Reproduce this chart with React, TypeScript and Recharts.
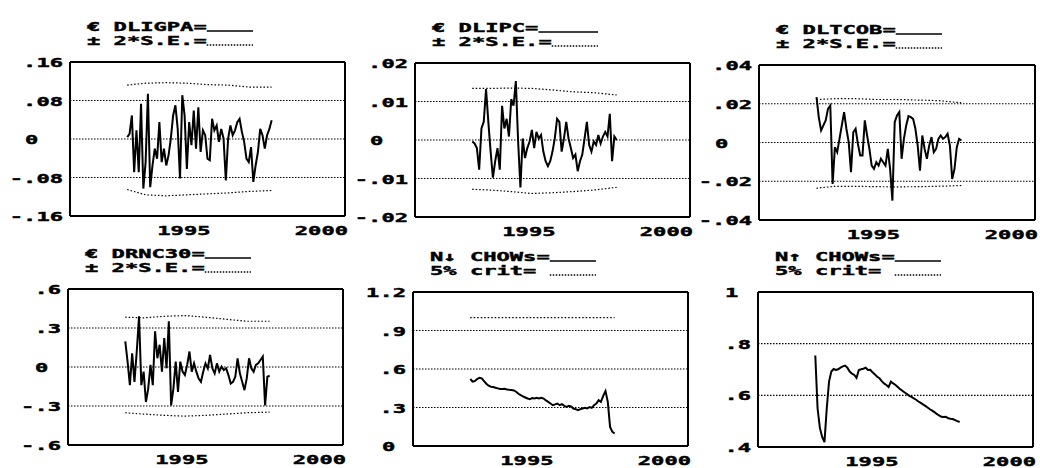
import React from "react";
import { LineChart, Line, XAxis, YAxis, ReferenceLine } from "recharts";

// monthly sample, first observation 1992(2)
const START = 1992 + 1 / 12;

const yearTicks = [1991, 1992, 1993, 1994, 1995, 1996, 1997, 1998, 1999, 2000];
const yearLabels = ["1995", "2000"];
const bigYear = [1995];

const bandYears = [1992.08, 1992.75, 1993.5, 1994.25, 1995, 1995.75, 1996.5, 1997.33];
const critYears = [1992.08, 1997.33];

const dligpa = [
  0.004, 0.011, 0.049, -0.069, 0.018, -0.069, 0.073, -0.103, -0.048, 0.094,
  -0.1, -0.055, -0.02, -0.041, 0.035, -0.048, -0.02, -0.055, -0.034, 0.001,
  0.049, 0.07, 0.021, -0.082, 0.091, 0.049, -0.062, 0.035, -0.013, 0.059,
  -0.02, 0.066, -0.027, 0.018, 0.008, -0.041, -0.044, 0.042, 0.018, 0.028,
  -0.006, 0.021, 0.001, -0.086, 0.001, 0.028, 0.008, 0.018, 0.035, 0.042,
  0.015, -0.006, -0.041, -0.048, -0.017, -0.089, -0.055, -0.027, 0.021, 0.008,
  -0.02, 0.008, 0.021, 0.039,
];
const dligpaHi = [0.112, 0.116, 0.117, 0.116, 0.113, 0.112, 0.108, 0.108];
const dligpaLo = [-0.105, -0.116, -0.118, -0.116, -0.114, -0.112, -0.109, -0.107];

const dlipc = [
  -0.0004, -0.0009, -0.0021, -0.0077, 0.003, 0.0047, 0.0132, 0.0047, -0.003, -0.0098,
  -0.0055, -0.0021, -0.0077, 0.0089, 0.003, 0.0055, 0.0009, 0.0106, 0.0089, 0.0153,
  -0.0004, -0.0123, 0.0004, -0.0047, -0.0021, -0.0004, 0.0026, -0.0021, 0.0021, 0.0004,
  0.0013, -0.003, -0.0055, -0.0068, -0.0055, -0.003, 0.0004, 0.0055, 0.0047, -0.003,
  0.0004, 0.0047, 0.0004, -0.0021, -0.0047, -0.0038, -0.0081, -0.0055, -0.0038, 0.0004,
  0.0047, -0.0013, -0.003, -0.0004, -0.0013, 0.0013, -0.0009, 0.0009, 0.0021, 0.0009,
  0.0068, -0.0055, 0.0009, 0.0,
];
const dlipcHi = [0.0134, 0.0134, 0.0135, 0.0134, 0.013, 0.0125, 0.0123, 0.0117];
const dlipcLo = [-0.0128, -0.013, -0.0134, -0.0139, -0.0137, -0.0134, -0.013, -0.0123];

const dltcob = [
  0.0234, 0.013, 0.0062, 0.0088, 0.0114, 0.0174, 0.0191, -0.0214, -0.0024, -0.005,
  0.0019, 0.0088, 0.0157, 0.0071, 0.0002, -0.0153, 0.0053, 0.0071, -0.0007, -0.0067,
  -0.0067, 0.0114, 0.0036, -0.0033, -0.0119, -0.0136, -0.0102, -0.0119, -0.0084, -0.0102,
  -0.0119, -0.0033, -0.0136, -0.03, 0.0105, 0.014, 0.0157, -0.0084, 0.0019, 0.0088,
  0.0136, 0.0131, 0.0122, 0.0071, -0.0016, -0.0145, 0.0036, -0.0033, -0.0084, -0.0016,
  0.0028, -0.005, -0.0033, 0.0019, 0.0036, 0.0019, 0.0028, 0.0045, -0.0016, -0.0188,
  -0.0136, -0.0024, 0.0019, 0.001,
];
const dltcobHi = [0.0222, 0.0226, 0.0226, 0.0222, 0.0222, 0.0219, 0.0216, 0.0205];
const dltcobLo = [-0.0236, -0.0226, -0.0226, -0.0228, -0.0229, -0.0228, -0.0226, -0.0222];

const drnc30 = [
  0.197, 0.041, -0.14, 0.106, -0.114, 0.119, 0.39, -0.14, -0.036, -0.269,
  -0.166, 0.016, -0.14, 0.274, 0.067, 0.171, -0.036, 0.222, -0.01, 0.352,
  -0.295, -0.166, 0.041, -0.191, 0.041, -0.036, -0.062, 0.016, 0.119, -0.036,
  0.028, -0.036, -0.088, -0.114, -0.036, 0.028, -0.01, 0.093, -0.01, -0.049,
  0.028, -0.036, 0.003, -0.023, -0.01, -0.062, -0.127, -0.114, -0.075, 0.067,
  -0.049, -0.114, -0.178, -0.088, 0.067, -0.01, -0.036, 0.016, 0.028, 0.054,
  0.08, -0.295, -0.075, -0.067,
];
const drnc30Hi = [0.383, 0.378, 0.39, 0.396, 0.383, 0.367, 0.352, 0.352];
const drnc30Lo = [-0.352, -0.362, -0.372, -0.378, -0.372, -0.362, -0.352, -0.347];

const chowDown = [
  0.522, 0.501, 0.506, 0.522, 0.532, 0.527, 0.506, 0.485, 0.47, 0.462,
  0.459, 0.454, 0.449, 0.444, 0.444, 0.446, 0.441, 0.438, 0.436, 0.433,
  0.423, 0.407, 0.397, 0.386, 0.378, 0.37, 0.365, 0.373, 0.37, 0.376,
  0.37, 0.376, 0.37, 0.355, 0.344, 0.331, 0.318, 0.324, 0.331, 0.318,
  0.326, 0.313, 0.305, 0.313, 0.308, 0.292, 0.287, 0.279, 0.287, 0.292,
  0.297, 0.292, 0.303, 0.297, 0.318, 0.331, 0.357, 0.344, 0.391, 0.428,
  0.344, 0.149, 0.11, 0.097,
];
const chowUp = [
  0.754, 0.549, 0.474, 0.439, 0.419, 0.549, 0.653, 0.692, 0.702, 0.698,
  0.701, 0.707, 0.712, 0.715, 0.707, 0.692, 0.684, 0.679, 0.668, 0.698,
  0.701, 0.703, 0.707, 0.698, 0.699, 0.689, 0.681, 0.672, 0.666, 0.655,
  0.646, 0.64, 0.632, 0.653, 0.646, 0.64, 0.632, 0.624, 0.618, 0.611,
  0.605, 0.598, 0.594, 0.588, 0.583, 0.576, 0.571, 0.565, 0.559, 0.553,
  0.546, 0.541, 0.535, 0.528, 0.522, 0.517, 0.516, 0.517, 0.511, 0.509,
  0.508, 0.504, 0.5, 0.497,
];
const chowCrit = [1, 1];

const YW = 70;
const MT = 10;
const MR = 6;
const XH = 30;
const FONT = "'DejaVu Sans Mono', monospace";
const STRETCH = 1.7;
const ADV = 13 * 0.602 * STRETCH;
const TICK_STYLE = { stroke: "#000", strokeWidth: 2 };

type Panel = {
  left: number;
  top: number;
  w: number;
  h: number;
  head: [string, string];
  dom: [number, number];
  major: number[];
  labels: string[];
  minor: number[];
  intOff: number;
  series: number[];
  hi: number[];
  hiX: number[];
  lo?: number[];
};

const panels: Panel[] = [
  {
    left: 70, top: 62, w: 275, h: 154, head: ["€ DLIGPA=", "± 2*S.E.="],
    dom: [-0.16, 0.16], major: [-0.16, -0.08, 0, 0.08, 0.16], labels: ["-.16", "-.08", "0", ".08", ".16"],
    minor: [-0.12, -0.04, 0.04, 0.12], intOff: 45, series: dligpa, hi: dligpaHi, hiX: bandYears, lo: dligpaLo,
  },
  {
    left: 415, top: 63, w: 275, h: 154, head: ["€ DLIPC=", "± 2*S.E.="],
    dom: [-0.02, 0.02], major: [-0.02, -0.01, 0, 0.01, 0.02], labels: ["-.02", "-.01", "0", ".01", ".02"],
    minor: [-0.015, -0.005, 0.005, 0.015], intOff: 45, series: dlipc, hi: dlipcHi, hiX: bandYears, lo: dlipcLo,
  },
  {
    left: 759, top: 65, w: 276, h: 155, head: ["€ DLTCOB=", "± 2*S.E.="],
    dom: [-0.04, 0.04], major: [-0.04, -0.02, 0, 0.02, 0.04], labels: ["-.04", "-.02", "0", ".02", ".04"],
    minor: [-0.03, -0.01, 0.01, 0.03], intOff: 44, series: dltcob, hi: dltcobHi, hiX: bandYears, lo: dltcobLo,
  },
  {
    left: 68, top: 289, w: 275, h: 156, head: ["€ DRNC30=", "± 2*S.E.="],
    dom: [-0.6, 0.6], major: [-0.6, -0.3, 0, 0.3, 0.6], labels: ["-.6", "-.3", "0", ".3", ".6"],
    minor: [-0.45, -0.15, 0.15, 0.45], intOff: 33, series: drnc30, hi: drnc30Hi, hiX: bandYears, lo: drnc30Lo,
  },
  {
    left: 413, top: 292, w: 275, h: 154, head: ["N↓ CHOWs=", " 5% crit="],
    dom: [0, 1.2], major: [0, 0.3, 0.6, 0.9, 1.2], labels: ["0", ".3", ".6", ".9", "1.2"],
    minor: [0.15, 0.45, 0.75, 1.05], intOff: 31, series: chowDown, hi: chowCrit, hiX: critYears,
  },
  {
    left: 758, top: 292, w: 275, h: 155, head: ["N↑ CHOWs=", " 5% crit="],
    dom: [0.4, 1], major: [0.4, 0.6, 0.8, 1], labels: [".4", ".6", ".8", "1"],
    minor: [0.5, 0.7, 0.9], intOff: 33, series: chowUp, hi: chowCrit, hiX: critYears,
  },
];

function PixText({ x, y, text, anchor = "start" }: { x: number; y: number; text: string; anchor?: string }) {
  return (
    <text
      transform={`translate(${x} ${y}) scale(${STRETCH} 1)`}
      textAnchor={anchor as any}
      fontFamily={FONT}
      fontWeight="bold"
      fontSize={13}
      fill="#000"
      stroke="#000"
      strokeWidth={0.45}
    >
      {text}
    </text>
  );
}

function XTick(props: any) {
  const { x, payload, bottom } = props;
  const label = yearLabels.find((l) => Number(l) === payload.value);
  if (!label) return <g />;
  return <PixText x={x + 3} y={bottom + 19} anchor="end" text={label} />;
}

function YTick(props: any) {
  const { y, payload, p } = props;
  const idx = p.major.findIndex((m: number) => Math.abs(m - payload.value) < 1e-9);
  if (idx < 0) return <g />;
  const text: string = p.labels[idx];
  const plain = !text.includes(".");
  return (
    <PixText x={plain ? YW - p.intOff : YW - 7} y={y + 5} anchor={plain ? "start" : "end"} text={text} />
  );
}

function PanelChart({ p }: { p: Panel }) {
  const rows = p.series.map((v, i) => ({ t: START + i / 12, v }));
  const hiRows = p.hiX.map((t, i) => ({ t, v: p.hi[i] }));
  const loRows = p.lo ? p.hiX.map((t, i) => ({ t, v: p.lo![i] })) : null;
  const grid = p.major.filter((v) => v > p.dom[0] && v < p.dom[1]);

  return (
    <div style={{ position: "absolute", left: p.left - YW, top: p.top - MT }}>
      <LineChart
        width={YW + p.w + MR}
        height={MT + p.h + XH}
        data={rows}
        margin={{ top: MT, right: MR, left: 0, bottom: 0 }}
      >
        {/* inward tick marks: mirrored, zero-size axes placed next to the frame */}
        <XAxis
          xAxisId="minorX"
          type="number"
          dataKey="t"
          domain={[1990, 2000]}
          ticks={yearTicks}
          interval={0}
          allowDataOverflow
          mirror
          height={0}
          axisLine={false}
          tick={false}
          tickLine={TICK_STYLE}
          tickSize={4}
        />
        <XAxis
          xAxisId="majorX"
          type="number"
          dataKey="t"
          domain={[1990, 2000]}
          ticks={bigYear}
          interval={0}
          allowDataOverflow
          mirror
          height={0}
          axisLine={false}
          tick={false}
          tickLine={TICK_STYLE}
          tickSize={8}
        />
        <XAxis
          type="number"
          dataKey="t"
          domain={[1990, 2000]}
          ticks={yearTicks}
          interval={0}
          allowDataOverflow
          axisLine={false}
          tickLine={false}
          tickSize={0}
          tickMargin={0}
          height={XH}
          tick={(tp: any) => <XTick {...tp} bottom={MT + p.h} />}
        />
        <YAxis
          yAxisId="minorY"
          type="number"
          domain={p.dom}
          ticks={p.minor}
          interval={0}
          allowDataOverflow
          mirror
          width={0}
          axisLine={false}
          tick={false}
          tickLine={TICK_STYLE}
          tickSize={5}
        />
        <YAxis
          type="number"
          domain={p.dom}
          ticks={p.major}
          interval={0}
          allowDataOverflow
          axisLine={false}
          tickLine={false}
          tickSize={0}
          tickMargin={0}
          width={YW}
          tick={(tp: any) => <YTick {...tp} p={p} />}
        />
        {grid.map((v) => (
          <ReferenceLine key={v} y={v} stroke="#000" strokeWidth={1.2} strokeDasharray="1.5 1.5" />
        ))}
        {/* frame */}
        <ReferenceLine y={p.dom[0]} stroke="#000" strokeWidth={2} />
        <ReferenceLine y={p.dom[1]} stroke="#000" strokeWidth={2} />
        <ReferenceLine x={1990} stroke="#000" strokeWidth={2} />
        <ReferenceLine x={2000} stroke="#000" strokeWidth={2} />
        <Line
          data={hiRows}
          dataKey="v"
          type="linear"
          stroke="#000"
          strokeWidth={1.2}
          strokeDasharray="1.5 2"
          dot={false}
          isAnimationActive={false}
        />
        {loRows && (
          <Line
            data={loRows}
            dataKey="v"
            type="linear"
            stroke="#000"
            strokeWidth={1.2}
            strokeDasharray="1.5 2"
            dot={false}
            isAnimationActive={false}
          />
        )}
        <Line dataKey="v" type="linear" stroke="#000" strokeWidth={2} dot={false} isAnimationActive={false} />
      </LineChart>
    </div>
  );
}

export default function App() {
  return (
    <div
      style={{
        position: "absolute",
        left: 0,
        top: 0,
        width: 1040,
        height: 468,
        background: "#fff",
        overflow: "hidden",
      }}
    >
      {panels.map((p, i) => (
        <PanelChart key={i} p={p} />
      ))}
      <svg width={1040} height={468} style={{ position: "absolute", left: 0, top: 0, pointerEvents: "none" }}>
        {panels.map((p, i) => {
          const x0 = p.left + 17;
          const y1 = p.top - 31;
          const y2 = p.top - 17;
          const end = x0 + 166;
          return (
            <g key={i}>
              <PixText x={x0} y={y1} text={p.head[0]} />
              <PixText x={x0} y={y2} text={p.head[1]} />
              <line x1={x0 + p.head[0].length * ADV} x2={end} y1={y1} y2={y1} stroke="#000" strokeWidth={1.5} />
              <line
                x1={x0 + p.head[1].length * ADV}
                x2={end}
                y1={y2}
                y2={y2}
                stroke="#000"
                strokeWidth={1.3}
                strokeDasharray="1.5 1.5"
              />
            </g>
          );
        })}
      </svg>
    </div>
  );
}
